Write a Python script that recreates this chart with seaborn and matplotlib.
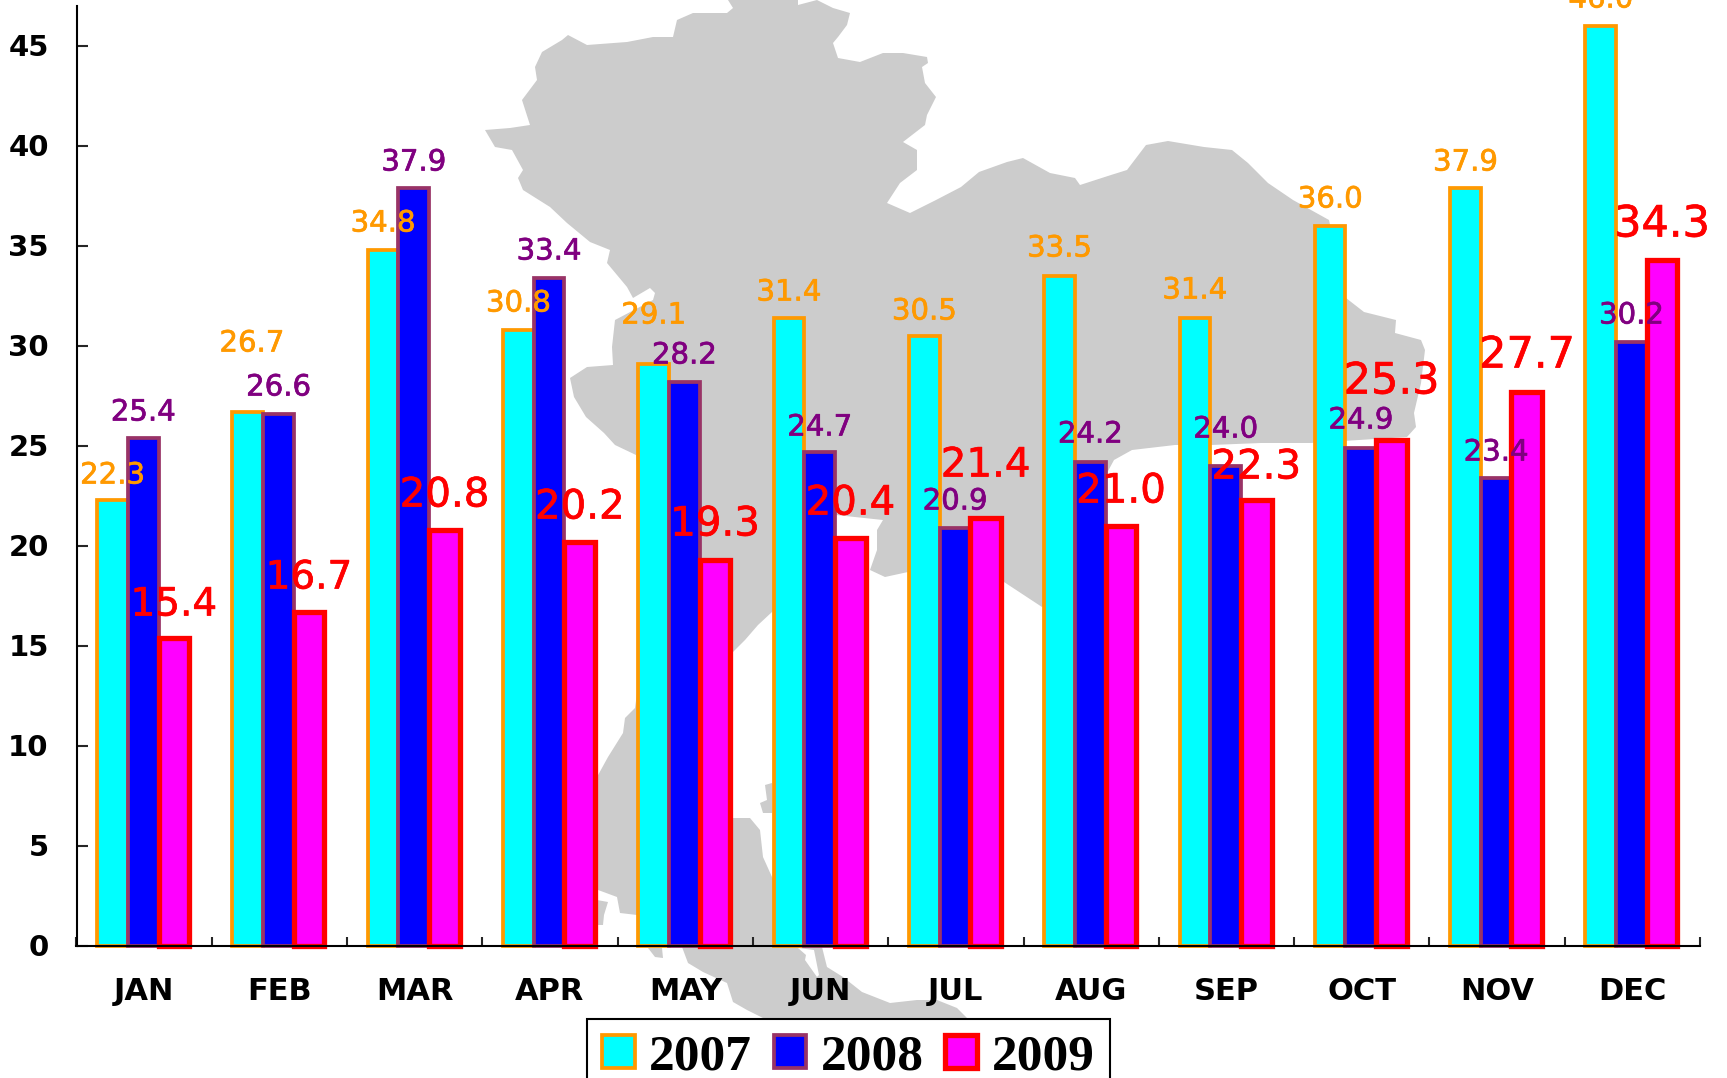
import numpy as np
import pandas as pd
import matplotlib
matplotlib.use('Agg')
import matplotlib.pyplot as plt
import matplotlib.patheffects as pe
import seaborn as sns

months = ['JAN', 'FEB', 'MAR', 'APR', 'MAY', 'JUN', 'JUL', 'AUG', 'SEP', 'OCT', 'NOV', 'DEC']
years = ['2007', '2008', '2009']
v2007 = [22.3, 26.7, 34.8, 30.8, 29.1, 31.4, 30.5, 33.5, 31.4, 36.0, 37.9, 46.0]
v2008 = [25.4, 26.6, 37.9, 33.4, 28.2, 24.7, 20.9, 24.2, 24.0, 24.9, 23.4, 30.2]
v2009 = [15.4, 16.7, 20.8, 20.2, 19.3, 20.4, 21.4, 21.0, 22.3, 25.3, 27.7, 34.3]

fill_cols = ['#00ffff', '#0000ff', '#ff00ff']
edge_cols = ['#ff9900', '#993366', '#ff0000']
edge_lw = [2.7, 2.7, 3.8]
label_cols = ['#ff9900', '#800080', '#ff0000']

# label height above its bar, in pixels (hand placed in the original)
lift2007 = [24, 68, 26, 26, 48, 25, 24, 27, 27, 26, 25, 26]
lift2008 = [25, 26, 25, 26, 26, 24, 26, 27, 36, 27, 25, 26]
lift2009 = [33, 34, 34, 34, 35, 34, 52, 34, 32, 58, 36, 35]
size2007 = [21] * 12
size2008 = [21] * 12
size2009 = [28, 28, 29, 29, 29, 29, 29, 29, 29, 31, 31, 31]
shift2007 = [0, 4, 0, 0, 0, 0, 0, 0, 0, 0, 0, 0]

# background map outline, picture pixels
map_main = [(728, 0), (798, 0), (798, 5), (817, 0), (833, 8), (850, 13), (847, 25), (838, 37), (833, 43),
            (838, 58), (860, 62), (883, 53), (903, 53), (927, 57), (928, 63), (922, 67), (925, 83), (936, 97),
            (927, 115), (925, 125), (903, 142), (917, 150), (917, 170), (900, 183), (887, 203), (910, 213),
            (936, 200), (961, 187), (979, 172), (1007, 162), (1023, 158), (1050, 173), (1075, 178), (1080, 185),
            (1111, 175), (1127, 170), (1146, 145), (1168, 141), (1204, 147), (1232, 150), (1248, 163), (1268, 183),
            (1293, 200), (1329, 220), (1346, 298), (1364, 312), (1396, 320), (1395, 333), (1421, 340), (1425, 350),
            (1421, 383), (1414, 413), (1416, 427), (1407, 437), (1311, 443), (1261, 443), (1211, 445), (1175, 445),
            (1132, 450), (1114, 460), (1107, 473), (1090, 550), (1042, 607), (1004, 582), (908, 572), (885, 577),
            (870, 570), (877, 550), (877, 530), (883, 520), (836, 515), (772, 612), (758, 625), (745, 640),
            (733, 652), (725, 815), (733, 818), (750, 818), (760, 830), (763, 857), (772, 877), (822, 947),
            (827, 967), (843, 977), (862, 992), (890, 1003), (917, 1000), (937, 1000), (957, 1008), (967, 1018),
            (975, 1078), (770, 1078), (763, 1018), (747, 1010), (733, 1002), (727, 983), (703, 972), (688, 963),
            (682, 947), (660, 920), (637, 915), (620, 913), (617, 897), (590, 887), (590, 800), (597, 777),
            (608, 757), (623, 733), (625, 718), (635, 708), (650, 600), (636, 455), (615, 445), (604, 433),
            (586, 417), (574, 397), (570, 378), (587, 367), (613, 365), (612, 347), (615, 320), (653, 300),
            (655, 293), (650, 288), (633, 298), (627, 287), (607, 263), (610, 250), (590, 242), (567, 223),
            (550, 207), (523, 190), (518, 178), (523, 170), (512, 150), (495, 147), (485, 130), (510, 128),
            (530, 125), (522, 100), (537, 80), (535, 67), (542, 52), (562, 40), (568, 35), (587, 45), (627, 42),
            (653, 37), (673, 37), (677, 20), (693, 13), (727, 13), (733, 8)]
map_isle1 = [(765, 785), (772, 783), (772, 813), (763, 813), (760, 803), (767, 800)]
map_isle2 = [(597, 900), (608, 902), (604, 915), (603, 925), (596, 925)]
map_isle3 = [(648, 948), (662, 948), (663, 958), (655, 957)]
map_gulf = [(798, 948), (806, 955), (805, 960), (817, 977), (819, 975), (814, 950)]

W, H = 1727, 1078
sns.set_style('white')
plt.rcParams['font.family'] = ['DejaVu Sans']
plt.rcParams['text.color'] = 'black'

df = pd.DataFrame({
    'month': months * 3,
    'year': np.repeat(years, 12),
    'value': v2007 + v2008 + v2009,
})

fig = plt.figure(figsize=(W / 100, H / 100), dpi=100)

bg = fig.add_axes([0, 0, 1, 1])
bg.set_xlim(0, W)
bg.set_ylim(H, 0)
bg.axis('off')
for shape in [map_main, map_isle1, map_isle2, map_isle3]:
    bg.fill(*zip(*shape), color='#cccccc', lw=0)
bg.fill(*zip(*map_gulf), color='white', lw=0)

ax = fig.add_axes([76.5 / W, (H - 945.5) / H, (1700 - 76.5) / W, (945.5 - 5.5) / H])
ax.patch.set_alpha(0)
sns.barplot(data=df, x='month', y='value', hue='year', order=months, hue_order=years,
            palette=dict(zip(years, fill_cols)), saturation=1, width=0.68, gap=0,
            legend=False, ax=ax)

for c, ec, lw in zip(ax.containers, edge_cols, edge_lw):
    for bar in c:
        bar.set_edgecolor(ec)
        bar.set_linewidth(lw)
        bar.set_clip_on(False)
        bar.set_x(bar.get_x() - 0.007)

# value labels
series = [(v2007, lift2007, size2007, shift2007), (v2008, lift2008, size2008, [0] * 12),
          (v2009, lift2009, size2009, [0] * 12)]
for c, col, (vals, lift, size, shift) in zip(ax.containers, label_cols, series):
    for bar, v, l, s, dx in zip(c, vals, lift, size, shift):
        ax.annotate('%.1f' % v, (bar.get_x() + bar.get_width() / 2, v),
                    xytext=(dx * 0.72, l * 0.72), textcoords='offset points',
                    ha='center', va='center', color=col, fontsize=s,
                    annotation_clip=False, zorder=10,
                    path_effects=[pe.withStroke(linewidth=0.5, foreground=col)])

ax.set_xlim(-0.5, 11.5)
ax.set_ylim(0, 47)
ax.set_xlabel('')
ax.set_ylabel('')
ax.set_yticks(np.arange(0, 50, 5))
ax.set_xticks(np.arange(-0.5, 12, 1))
ax.set_xticklabels([])
ax.set_xticks(np.arange(12), labels=months, minor=True)
ax.tick_params(axis='y', direction='in', length=8, width=1.5, pad=20, labelsize=21,
               left=True, labelcolor='black')
ax.tick_params(axis='x', which='major', direction='in', length=6.5, width=1.5, bottom=True)
ax.tick_params(axis='x', which='minor', length=0, pad=23, labelsize=22, labelcolor='black')
for t in ax.get_yticklabels() + ax.get_xticklabels(minor=True):
    t.set_fontweight('bold')

sns.despine(ax=ax)
for side in ['left', 'bottom']:
    ax.spines[side].set_linewidth(1.5)
    ax.spines[side].set_color('black')

leg = ax.legend(ax.containers, years, loc='upper left',
                bbox_to_anchor=(587 / W, (H - 1019) / H), bbox_transform=fig.transFigure,
                ncol=3, borderaxespad=0, frameon=True, fancybox=False, framealpha=1,
                edgecolor='black', facecolor='white', handlelength=0.63, handleheight=0.63,
                handletextpad=0.28, columnspacing=0.42, borderpad=0.3, labelcolor='black',
                prop={'family': 'Liberation Serif', 'weight': 'bold', 'size': 37})
leg.get_frame().set_linewidth(1.5)

plt.savefig('out.png', dpi=100)
